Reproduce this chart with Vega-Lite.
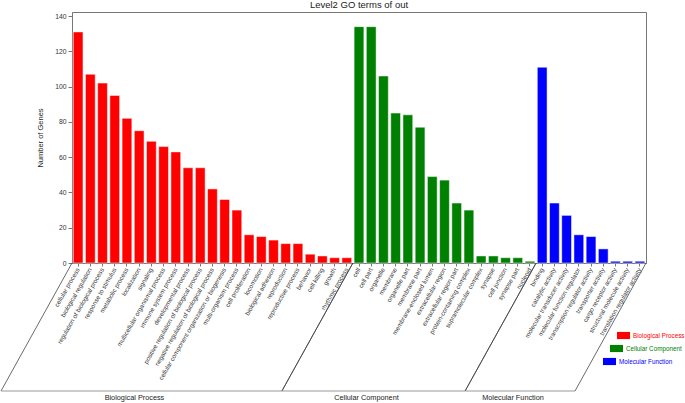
{
  "$schema": "https://vega.github.io/schema/vega-lite/v6.json",
  "width": 574,
  "height": 251,
  "autosize": {"type": "none"},
  "padding": {"left": 72, "top": 12, "right": 39, "bottom": 140},
  "title": {"text": "Level2 GO terms of out", "fontSize": 9.5, "fontWeight": "normal", "font": "Liberation Sans", "color": "#222", "offset": 3, "anchor": "middle"},
  "config": {
    "font": "Liberation Sans",
    "view": {"stroke": "#777", "strokeWidth": 1},
    "axis": {"grid": false, "domainColor": "#777", "tickColor": "#777", "labelColor": "#333", "titleColor": "#222", "labelFont": "Liberation Sans", "titleFont": "Liberation Sans"}
  },
  "datasets": {
    "terms": [
      {"term": "cellular process", "genes": 131, "category": "Biological Process"},
      {"term": "biological regulation", "genes": 107, "category": "Biological Process"},
      {"term": "regulation of biological process", "genes": 102, "category": "Biological Process"},
      {"term": "response to stimulus", "genes": 95, "category": "Biological Process"},
      {"term": "metabolic process", "genes": 82, "category": "Biological Process"},
      {"term": "localization", "genes": 75, "category": "Biological Process"},
      {"term": "signaling", "genes": 69, "category": "Biological Process"},
      {"term": "multicellular organismal process", "genes": 66, "category": "Biological Process"},
      {"term": "immune system process", "genes": 63, "category": "Biological Process"},
      {"term": "developmental process", "genes": 54, "category": "Biological Process"},
      {"term": "positive regulation of biological process", "genes": 54, "category": "Biological Process"},
      {"term": "negative regulation of biological process", "genes": 42, "category": "Biological Process"},
      {"term": "cellular component organization or biogenesis", "genes": 36, "category": "Biological Process"},
      {"term": "multi-organism process", "genes": 30, "category": "Biological Process"},
      {"term": "cell proliferation", "genes": 16, "category": "Biological Process"},
      {"term": "locomotion", "genes": 15, "category": "Biological Process"},
      {"term": "biological adhesion", "genes": 13, "category": "Biological Process"},
      {"term": "reproduction", "genes": 11, "category": "Biological Process"},
      {"term": "reproductive process", "genes": 11, "category": "Biological Process"},
      {"term": "behavior", "genes": 5, "category": "Biological Process"},
      {"term": "cell killing", "genes": 4, "category": "Biological Process"},
      {"term": "growth", "genes": 3, "category": "Biological Process"},
      {"term": "rhythmic process", "genes": 3, "category": "Biological Process"},
      {"term": "cell", "genes": 134, "category": "Cellular Component"},
      {"term": "cell part", "genes": 134, "category": "Cellular Component"},
      {"term": "organelle", "genes": 106, "category": "Cellular Component"},
      {"term": "membrane", "genes": 85, "category": "Cellular Component"},
      {"term": "organelle part", "genes": 84, "category": "Cellular Component"},
      {"term": "membrane part", "genes": 77, "category": "Cellular Component"},
      {"term": "membrane-enclosed lumen", "genes": 49, "category": "Cellular Component"},
      {"term": "extracellular region", "genes": 47, "category": "Cellular Component"},
      {"term": "extracellular region part", "genes": 34, "category": "Cellular Component"},
      {"term": "protein-containing complex", "genes": 30, "category": "Cellular Component"},
      {"term": "supramolecular complex", "genes": 4, "category": "Cellular Component"},
      {"term": "synapse", "genes": 4, "category": "Cellular Component"},
      {"term": "cell junction", "genes": 3, "category": "Cellular Component"},
      {"term": "synapse part", "genes": 3, "category": "Cellular Component"},
      {"term": "nucleoid", "genes": 1, "category": "Cellular Component"},
      {"term": "binding", "genes": 111, "category": "Molecular Function"},
      {"term": "catalytic activity", "genes": 34, "category": "Molecular Function"},
      {"term": "molecular transducer activity", "genes": 27, "category": "Molecular Function"},
      {"term": "molecular function regulator", "genes": 16, "category": "Molecular Function"},
      {"term": "transcription regulator activity", "genes": 15, "category": "Molecular Function"},
      {"term": "transporter activity", "genes": 8, "category": "Molecular Function"},
      {"term": "cargo receptor activity", "genes": 1, "category": "Molecular Function"},
      {"term": "structural molecule activity", "genes": 1, "category": "Molecular Function"},
      {"term": "translation regulator activity", "genes": 1, "category": "Molecular Function"}
    ]
  },
  "layer": [
    {
      "data": {"name": "terms"},
      "mark": {"type": "bar", "stroke": "#ffffff", "strokeWidth": 0.7, "strokeOpacity": 0.7},
      "encoding": {
        "x": {
          "field": "term", "type": "nominal", "sort": null,
          "scale": {"paddingInner": 0.2, "paddingOuter": 0.1},
          "axis": {"title": null, "labelAngle": -60, "labelAlign": "right", "labelBaseline": "middle", "labelFontSize": 6.3, "labelPadding": 2, "tickSize": 3, "labelLimit": 0, "labelOverlap": false}
        },
        "y": {
          "field": "genes", "type": "quantitative",
          "scale": {"domain": [0, 142.3], "nice": false},
          "axis": {"title": "Number of Genes", "values": [0, 20, 40, 60, 80, 100, 120, 140], "labelOverlap": false, "labelFontSize": 6.8, "titleFontSize": 7.5, "titleFontWeight": "normal", "tickSize": 4, "labelPadding": 2, "titlePadding": 10}
        },
        "color": {
          "field": "category", "type": "nominal",
          "scale": {"domain": ["Biological Process", "Cellular Component", "Molecular Function"], "range": ["#FF0000", "#008000", "#0000FF"]},
          "legend": {
            "orient": "none", "legendX": 545, "legendY": 317, "title": null, "padding": 0,
            "symbolType": "M-1,-0.55H1V0.55H-1Z", "symbolSize": 169, "symbolStrokeWidth": 0,
            "labelFontSize": 6.3, "rowPadding": 2,
            "labelColor": {"expr": "scale('color', datum.value)"},
            "labelOffset": 3,
            "symbolOffset": {"expr": "-7 * datum.index"}
          }
        }
      }
    },
    {
      "data": {"name": "terms"},
      "transform": [
        {"window": [{"op": "row_number", "as": "idx"}]},
        {"aggregate": [{"op": "min", "field": "idx", "as": "first"}, {"op": "max", "field": "idx", "as": "end"}], "groupby": ["category"]},
        {"calculate": "datum.first - 1", "as": "start"},
        {"calculate": "(datum.start + datum.end) / 2", "as": "mid"}
      ],
      "layer": [
        {
          "mark": {"type": "rule", "color": "#444", "strokeWidth": 0.8, "x2Offset": -71, "y2Offset": 128},
          "encoding": {
            "x": {"field": "start", "type": "quantitative", "scale": {"domain": [0, 47], "nice": false, "zero": false}, "axis": null},
            "x2": {"field": "start"},
            "y": {"datum": 0, "axis": null},
            "y2": {"datum": 0}
          }
        },
        {
          "mark": {"type": "rule", "color": "#444", "strokeWidth": 0.8, "x2Offset": -71, "y2Offset": 128},
          "encoding": {
            "x": {"field": "end", "type": "quantitative", "axis": null},
            "x2": {"field": "end"},
            "y": {"datum": 0, "axis": null},
            "y2": {"datum": 0}
          }
        },
        {
          "mark": {"type": "rule", "color": "#999", "strokeWidth": 1, "xOffset": -71, "x2Offset": -71, "yOffset": 128},
          "encoding": {
            "x": {"field": "start", "type": "quantitative", "axis": null},
            "x2": {"field": "end"},
            "y": {"datum": 0, "axis": null}
          }
        },
        {
          "mark": {"type": "text", "fontSize": 7.3, "color": "#222", "align": "center", "baseline": "middle", "dx": -78, "yOffset": 135},
          "encoding": {
            "x": {"field": "mid", "type": "quantitative", "axis": null},
            "y": {"datum": 0, "axis": null},
            "text": {"field": "category"}
          }
        }
      ]
    }
  ],
  "resolve": {"scale": {"x": "independent"}, "axis": {"x": "independent", "y": "independent"}}
}
